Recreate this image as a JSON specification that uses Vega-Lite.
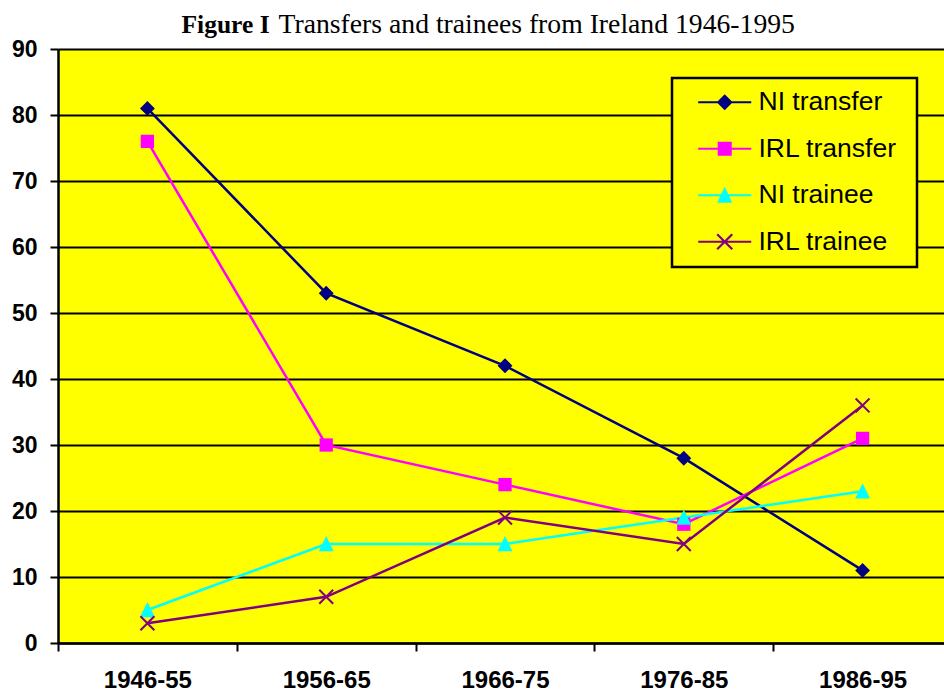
{
  "$schema": "https://vega.github.io/schema/vega-lite/v6.json",
  "autosize": "none",
  "width": 886,
  "height": 594,
  "padding": {"left": 58, "top": 49, "right": 0, "bottom": 48},
  "background": "white",
  "config": {
    "view": {"fill": "#FFFF00", "stroke": null}
  },
  "data": {
    "values": [
      {"period": "1946-55", "series": "NI transfer", "value": 81},
      {"period": "1956-65", "series": "NI transfer", "value": 53},
      {"period": "1966-75", "series": "NI transfer", "value": 42},
      {"period": "1976-85", "series": "NI transfer", "value": 28},
      {"period": "1986-95", "series": "NI transfer", "value": 11},
      {"period": "1946-55", "series": "IRL transfer", "value": 76},
      {"period": "1956-65", "series": "IRL transfer", "value": 30},
      {"period": "1966-75", "series": "IRL transfer", "value": 24},
      {"period": "1976-85", "series": "IRL transfer", "value": 18},
      {"period": "1986-95", "series": "IRL transfer", "value": 31},
      {"period": "1946-55", "series": "NI trainee", "value": 5},
      {"period": "1956-65", "series": "NI trainee", "value": 15},
      {"period": "1966-75", "series": "NI trainee", "value": 15},
      {"period": "1976-85", "series": "NI trainee", "value": 19},
      {"period": "1986-95", "series": "NI trainee", "value": 23},
      {"period": "1946-55", "series": "IRL trainee", "value": 3},
      {"period": "1956-65", "series": "IRL trainee", "value": 7},
      {"period": "1966-75", "series": "IRL trainee", "value": 19},
      {"period": "1976-85", "series": "IRL trainee", "value": 15},
      {"period": "1986-95", "series": "IRL trainee", "value": 36}
    ]
  },
  "encoding": {
    "x": {
      "field": "period",
      "type": "nominal",
      "sort": null,
      "scale": {"type": "band", "range": [0, 894], "paddingInner": 0, "paddingOuter": 0},
      "axis": {
        "title": "Transfers and trainees from Ireland 1946-1995",
        "titleFont": "Liberation Serif",
        "titleFontSize": 27.7,
        "titleFontWeight": "normal",
        "titleColor": "black",
        "titleAngle": 0,
        "titleAlign": "left",
        "titleBaseline": "alphabetic",
        "titleX": 220,
        "titleY": -611,
        "labelAngle": 0,
        "labelFont": "Liberation Sans",
        "labelFontSize": 24,
        "labelFontWeight": "bold",
        "labelColor": "black",
        "labelBaseline": "alphabetic",
        "labelPadding": 36,
        "tickBand": "extent",
        "tickSize": 8,
        "tickWidth": 2,
        "tickColor": "black",
        "domainColor": "black",
        "domainWidth": 2.5,
        "grid": false
      }
    },
    "y": {
      "field": "value",
      "type": "quantitative",
      "scale": {"domain": [0, 90], "nice": false, "zero": true},
      "axis": {
        "values": [0, 10, 20, 30, 40, 50, 60, 70, 80, 90],
        "title": "Figure I",
        "titleFont": "Liberation Serif",
        "titleFontSize": 25.5,
        "titleFontWeight": "bold",
        "titleColor": "black",
        "titleAngle": 0,
        "titleAlign": "left",
        "titleBaseline": "alphabetic",
        "titleX": 123,
        "titleY": -17,
        "labelFont": "Liberation Sans",
        "labelFontSize": 23,
        "labelFontWeight": "bold",
        "labelColor": "black",
        "labelPadding": 13,
        "tickSize": 8,
        "tickWidth": 2,
        "tickColor": "black",
        "domainColor": "black",
        "domainWidth": 2.5,
        "grid": true,
        "gridColor": "black",
        "gridWidth": 2,
        "gridOpacity": 1
      }
    },
    "color": {
      "field": "series",
      "type": "nominal",
      "sort": null,
      "scale": {
        "domain": ["NI transfer", "IRL transfer", "NI trainee", "IRL trainee"],
        "range": ["#000080", "#FF00FF", "#00FFFF", "#800080"]
      },
      "legend": {
        "title": "\u00a0",
        "titleOrient": "right",
        "titleFontSize": 1,
        "titlePadding": 9,
        "orient": "none",
        "legendX": 614,
        "legendY": 29,
        "padding": 11,
        "symbolSize": 676,
        "symbolOpacity": 1,
        "symbolStrokeWidth": 0,
        "labelOffset": 49,
        "labelFont": "Liberation Sans",
        "labelFontSize": 26.5,
        "labelColor": "black",
        "labelBaseline": "middle",
        "rowPadding": 19.5,
        "strokeColor": "black",
        "fillColor": "#FFFF00",
        "encode": {
          "legend": {"update": {"strokeWidth": {"value": 2.5}}},
          "symbols": {
            "update": {
              "fill": {"scale": "color", "field": "value"},
              "fillOpacity": {"value": 1},
              "opacity": {"value": 1},
              "stroke": {"value": "transparent"},
              "strokeWidth": {"value": 0}
            }
          }
        }
      }
    }
  },
  "layer": [
    {
      "mark": {"type": "line", "strokeWidth": 2.5}
    },
    {
      "transform": [{"filter": "datum.series === 'NI transfer'"}],
      "mark": {"type": "point", "filled": true, "size": 256, "opacity": 1, "strokeWidth": 0, "shape": "M0,-0.93L0.93,0L0,0.93L-0.93,0Z"}
    },
    {
      "transform": [{"filter": "datum.series === 'IRL transfer'"}],
      "mark": {"type": "point", "filled": true, "size": 256, "opacity": 1, "strokeWidth": 0, "shape": "M-0.83,-0.83H0.83V0.83H-0.83Z"}
    },
    {
      "transform": [{"filter": "datum.series === 'NI trainee'"}],
      "mark": {"type": "point", "filled": true, "size": 256, "opacity": 1, "strokeWidth": 0, "shape": "M0,-1L0.93,0.9L-0.93,0.9Z"}
    },
    {
      "transform": [{"filter": "datum.series === 'IRL trainee'"}],
      "mark": {"type": "point", "filled": true, "size": 256, "opacity": 1, "strokeWidth": 0, "shape": "M-0.78,-0.96L0.96,0.78L0.78,0.96L-0.96,-0.78ZM0.78,-0.96L0.96,-0.78L-0.78,0.96L-0.96,0.78Z"}
    },
    {
      "mark": {"type": "point", "filled": true, "opacity": 0, "strokeWidth": 0},
      "encoding": {
        "shape": {
          "field": "series",
          "type": "nominal",
          "sort": null,
          "scale": {
            "domain": ["NI transfer", "IRL transfer", "NI trainee", "IRL trainee"],
            "range": [
              "M0.15,-0.085H4.23V0.085H0.15ZM2.19,-0.615L2.805,0L2.19,0.615L1.575,0Z",
              "M0.15,-0.085H4.23V0.085H0.15ZM1.65,-0.54H2.73V0.54H1.65Z",
              "M0.15,-0.085H4.23V0.085H0.15ZM2.19,-0.65L2.77,0.58L1.61,0.58Z",
              "M0.15,-0.085H4.23V0.085H0.15ZM1.67,-0.64L2.83,0.52L2.71,0.64L1.55,-0.52ZM2.71,-0.64L2.83,-0.52L1.67,0.64L1.55,0.52Z"
            ]
          },
          "legend": {
            "title": "\u00a0",
            "titleOrient": "right",
            "titleFontSize": 1,
            "titlePadding": 9,
            "orient": "none",
            "legendX": 614,
            "legendY": 29
          }
        }
      }
    }
  ]
}
